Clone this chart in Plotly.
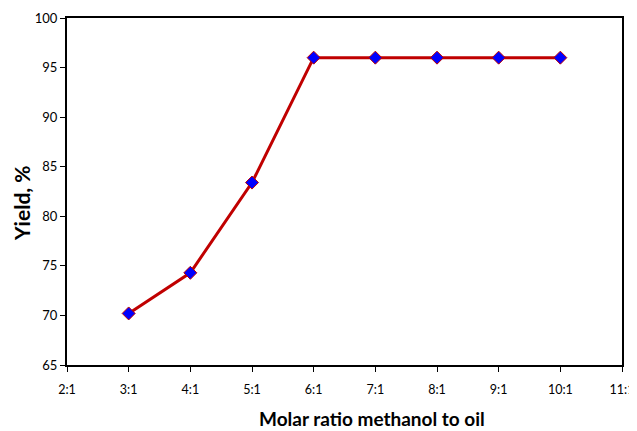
import plotly.graph_objects as go

x_vals = [3, 4, 5, 6, 7, 8, 9, 10]
yield_vals = [70.2, 74.3, 83.4, 96.0, 96.0, 96.0, 96.0, 96.0]
x_tick_vals = [2, 3, 4, 5, 6, 7, 8, 9, 10, 11]
x_tick_text = ["2:1", "3:1", "4:1", "5:1", "6:1", "7:1", "8:1", "9:1", "10:1", "11:1"]
y_tick_vals = [65, 70, 75, 80, 85, 90, 95, 100]

fig = go.Figure()
fig.add_trace(go.Scatter(
    x=x_vals, y=yield_vals, mode="lines+markers",
    line=dict(color="#C00000", width=3),
    marker=dict(symbol="diamond", size=10, color="#0000FF",
                line=dict(color="#C00000", width=1)),
    showlegend=False,
))

font_family = "Lato, Open Sans, DejaVu Sans, sans-serif"
fig.update_layout(
    width=629, height=423,
    margin=dict(l=59, r=15, t=10, b=66, autoexpand=False),
    paper_bgcolor="white", plot_bgcolor="white",
    font=dict(family=font_family, size=13, color="black"),
    xaxis=dict(range=[2, 11], tickvals=x_tick_vals, ticktext=x_tick_text,
               showgrid=False, zeroline=False, showline=True, mirror=True,
               linecolor="black", linewidth=2, ticks="outside", ticklen=5,
               tickcolor="black", tickfont=dict(size=12.5), ticklabelstandoff=7,
               automargin=False),
    yaxis=dict(range=[65, 100], tickvals=y_tick_vals,
               showgrid=False, zeroline=False, showline=True, mirror=True,
               linecolor="black", linewidth=2, ticks="outside", ticklen=5,
               tickcolor="black", tickfont=dict(size=13), automargin=False),
)
fig.add_annotation(text="<b>Molar ratio methanol to oil</b>", xref="paper", yref="paper",
                   x=0.55, y=-0.155, xanchor="center", yanchor="middle",
                   showarrow=False, font=dict(size=19, family=font_family))
fig.add_annotation(text="<b>Yield, %</b>", xref="paper", yref="paper",
                   x=-0.081, y=0.467, xanchor="center", yanchor="middle", textangle=-90,
                   showarrow=False, font=dict(size=21, family=font_family))

fig.write_html("out.html")
